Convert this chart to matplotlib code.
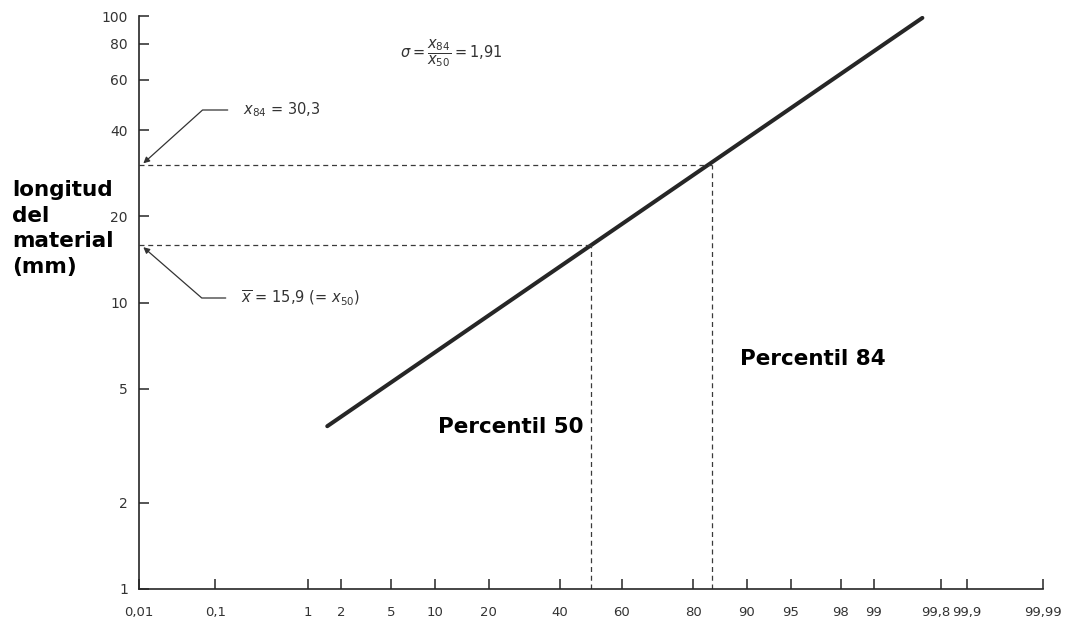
import numpy as np
import matplotlib
matplotlib.use('Agg')
import matplotlib.pyplot as plt
import matplotlib.transforms as mtransforms
from matplotlib.ticker import FixedLocator, FixedFormatter, NullLocator
from statistics import NormalDist

# Datos (papel log-probabilistico)
x_ticks = [0.01, 0.1, 1, 2, 5, 10, 20, 40, 60, 80, 90, 95, 98, 99, 99.8, 99.9, 99.99]
x_labels = ['0,01', '0,1', '1', '2', '5', '10', '20', '40', '60', '80', '90', '95',
            '98', '99', '99,8', '99,9', '99,99']
y_ticks = [1, 2, 5, 10, 20, 40, 60, 80, 100]
y_labels = ['1', '2', '5', '10', '20', '40', '60', '80', '100']

# recta de la distribucion (extremos leidos)
line_pct = [1.5, 99.68]
line_len = [3.7, 98.5]

p50, x50 = 50, 15.9
p84, x84 = 84, 30.3

ylabel_lines = ['longitud', 'del', 'material', '(mm)']

nd = NormalDist()
_ppf = np.vectorize(nd.inv_cdf, otypes=[float])
_cdf = np.vectorize(nd.cdf, otypes=[float])


def fwd(p):
    p = np.clip(np.asarray(p, dtype=float) / 100.0, 1e-9, 1 - 1e-9)
    return _ppf(p)


def inv(z):
    return _cdf(np.asarray(z, dtype=float)) * 100.0


plt.rcParams['mathtext.fontset'] = 'dejavusans'
ink = '#262626'

fig = plt.figure(figsize=(10.66, 6.2), dpi=100)
ax = fig.add_axes([139 / 1066, 1 - 589 / 620, 904 / 1066, 573 / 620])

ax.set_xscale('function', functions=(fwd, inv))
ax.set_yscale('log')
ax.set_xlim(0.01, 99.99)
ax.set_ylim(1, 100)

# linea principal
ax.plot(line_pct, line_len, color=ink, lw=2.9, solid_capstyle='round')

# lineas de referencia a trazos
dash = dict(color='#3a3a3a', lw=0.9, ls=(0, (4, 3)))
ax.plot([0.01, p84], [x84, x84], **dash)
ax.plot([p84, p84], [1, x84], **dash)
ax.plot([0.01, p50], [x50, x50], **dash)
ax.plot([p50, p50], [1, x50], **dash)

# ejes
for s in ['top', 'right']:
    ax.spines[s].set_visible(False)
for s in ['left', 'bottom']:
    ax.spines[s].set_color(ink)
    ax.spines[s].set_linewidth(1.2)

ax.xaxis.set_major_locator(FixedLocator(x_ticks))
ax.xaxis.set_major_formatter(FixedFormatter(x_labels))
ax.xaxis.set_minor_locator(NullLocator())
ax.yaxis.set_major_locator(FixedLocator(y_ticks))
ax.yaxis.set_major_formatter(FixedFormatter(y_labels))
ax.yaxis.set_minor_locator(NullLocator())

ax.tick_params(axis='x', direction='in', length=7, width=1.1, color=ink,
               labelsize=9.5, labelcolor='#333333', pad=12)
ax.tick_params(axis='y', direction='in', length=7, width=1.1, color=ink,
               labelsize=10, labelcolor='#333333', pad=8)

# el rotulo 99,8 va algo desplazado a la izquierda, como en el original
fig.canvas.draw()
for lab in ax.get_xticklabels():
    if lab.get_text() == '99,8':
        lab.set_transform(lab.get_transform() +
                          mtransforms.ScaledTranslation(-5 / 100, 0, fig.dpi_scale_trans))

# anotaciones con flecha
arrow = dict(arrowstyle='-|>', color='#333333', lw=0.9, mutation_scale=9,
             shrinkA=9, shrinkB=0)
ax.annotate(r'$x_{84}$ = 30,3', xy=(0.0115, 30.6),
            xytext=(243 / 1066, 1 - 110 / 620), textcoords='figure fraction',
            fontsize=10.5, color='#333333', va='center', ha='left',
            arrowprops=dict(connectionstyle='angle,angleA=180,angleB=42,rad=0', **arrow))
ax.annotate(r'$\overline{x}$ = 15,9 (= $x_{50}$)', xy=(0.0115, 15.6),
            xytext=(241 / 1066, 1 - 298 / 620), textcoords='figure fraction',
            fontsize=10.5, color='#333333', va='center', ha='left',
            arrowprops=dict(connectionstyle='angle,angleA=180,angleB=-41,rad=0', **arrow))

fig.text(400 / 1066, 1 - 53 / 620, r'$\sigma = \dfrac{x_{84}}{x_{50}} = 1{,}91$',
         fontsize=10.5, color='#333333', ha='left', va='center')

# textos en negrita (titulo del eje y, una linea por texto)
for i, txt in enumerate(ylabel_lines):
    fig.text(12 / 1066, 1 - (190 + 25.5 * i) / 620, txt, fontsize=15.5,
             fontweight='bold', color='black', ha='left', va='center')
fig.text(438 / 1066, 1 - 433 / 620, 'Percentil 50', fontsize=15.5, fontweight='bold',
         color='black', ha='left', va='baseline')
fig.text(740 / 1066, 1 - 365 / 620, 'Percentil 84', fontsize=15.5, fontweight='bold',
         color='black', ha='left', va='baseline')

fig.savefig('out.png', dpi=100)
